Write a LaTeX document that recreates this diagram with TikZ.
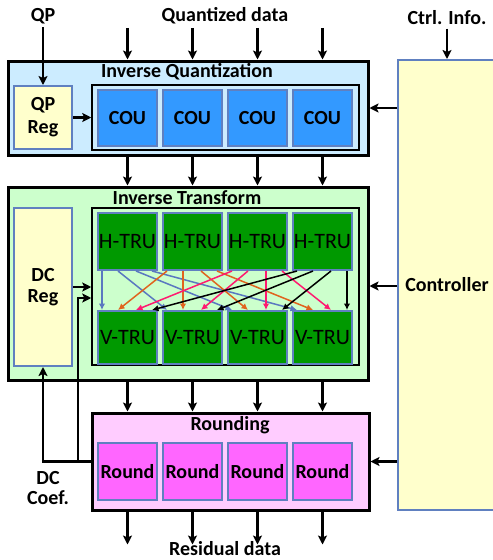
\documentclass[tikz,border=0pt]{standalone}
\usepackage{fontspec}
\setmainfont{Carlito}
\usetikzlibrary{arrows.meta,calc}
\definecolor{iqfill}{HTML}{CCECFF}
\definecolor{coufill}{HTML}{3399FF}
\definecolor{itfill}{HTML}{CCFFCC}
\definecolor{trufill}{HTML}{009900}
\definecolor{rndfill}{HTML}{FFCCFF}
\definecolor{roundfill}{HTML}{FF66FF}
\definecolor{regfill}{HTML}{FFFFCC}
\definecolor{edge}{HTML}{6080C0}
\definecolor{tblue}{HTML}{5A78C0}
\definecolor{torange}{HTML}{E0641E}
\definecolor{tpink}{HTML}{FF1A70}
\tikzset{
  big/.style={font=\fontsize{20}{21}\selectfont\bfseries},
  stage/.style={draw=black,line width=3pt,inner sep=0pt},
  holder/.style={draw=black,line width=1.5pt,minimum width=267pt,inner sep=0pt},
  unit/.style={draw=edge,line width=2pt,minimum width=59pt,inner sep=0pt},
  reg/.style={draw=edge,line width=2pt,fill=regfill,minimum width=58pt,inner sep=0pt,big,align=center},
  arr/.style={-{Stealth[length=9pt,width=9pt,inset=2pt]},line width=2.5pt},
  tarr/.style={-{Latex[length=6.5pt,width=6.5pt]},line width=1.5pt},
}

\begin{document}
\begin{tikzpicture}[x=1pt,y=-1pt]
  \clip (0,0) rectangle (493,560);
  % labels outside
  \node[big] (qp) at (43,16) {QP};
  \node[big] (qd) at (225,16) {Quantized data};
  \node[big] (ci) at (447,18) {Ctrl. Info.};
  \node[big] (rd) at (225,549) {Residual data};
  \node[big,align=center,font=\fontsize{20}{20}\selectfont\bfseries] (dcc) at (48,488) {DC\\Coef.};

  % controller
  \node[draw=edge,line width=2pt,fill=regfill,minimum width=98pt,minimum height=450pt,big] (ctrl) at (447,285) {Controller};

  % inverse quantization
  \node[stage,fill=iqfill,minimum width=360pt,minimum height=94pt] (iq) at (188,108) {};
  \node[big] at (187,72) {Inverse Quantization};
  \node[reg,minimum height=63pt,font=\fontsize{20}{23}\selectfont\bfseries] (qpreg) at (43,117.5) {QP\\Reg};
  \node[holder,fill=iqfill,minimum height=65pt] (couc) at (225.5,117.5) {};
  \foreach \i in {1,...,4}
    \node[unit,fill=coufill,minimum height=56pt,big] (cou\i) at (62.5+65*\i,118) {COU};

  % inverse transform
  \node[stage,fill=itfill,minimum width=360pt,minimum height=193pt] (it) at (188,283.5) {};
  \node[big] at (187,198) {Inverse Transform};
  \node[reg,minimum height=158pt] (dcreg) at (43,287) {DC\\Reg};
  \node[holder,fill=itfill,minimum height=157pt] (truc) at (225.5,286.5) {};
  \foreach \i in {1,...,4}{
    \node[unit,fill=trufill,minimum height=57pt,font=\fontsize{22}{22}\selectfont] (h\i) at (62.5+65*\i,241.5) {H-TRU};
    \node[unit,fill=trufill,minimum height=53pt,font=\fontsize{22}{22}\selectfont] (v\i) at (62.5+65*\i,337.5) {V-TRU};
  }

  % rounding
  \node[stage,fill=rndfill,minimum width=277pt,minimum height=97pt] (rnd) at (230.5,461.5) {};
  \node[big] at (230,425) {Rounding};
  \foreach \i in {1,...,4}
    \node[unit,fill=roundfill,minimum height=57pt,big] (round\i) at (62.5+65*\i,471.5) {Round};

  % transpose connections
  \foreach \i/\col in {1/tblue,2/torange,3/tpink,4/black}
    \foreach \k in {1,...,4}{
      \pgfmathsetmacro\fa{{5,21,39,55}[\k-1]}
      \pgfmathsetmacro\fb{{5,21,39,55}[\i-1]}
      \draw[tarr,\col] ($(h\i.south west)+(\fa,0)$) -- ($(v\k.north west)+(\fb,0)$);
    }

  % data flow
  \foreach \i in {1,...,4}{
    \draw[arr] (cou\i |- qd.south) -- (cou\i |- iq.north);
    \draw[arr] (cou\i |- iq.south) -- (h\i |- it.north);
    \draw[arr] (v\i |- it.south) -- (round\i |- rnd.north);
    \draw[arr] (round\i |- rnd.south) -- ++(0,33);
  }
  \draw[arr] (qp.south) -- (qpreg.north);
  \draw[arr] (ci.south) -- (ctrl.north);
  \draw[arr] (qpreg.east) -- (couc.west);
  \draw[arr] (ctrl.west |- iq.east) -- (iq.east);
  \draw[arr] (ctrl.west |- 0,286) -- (it.east |- 0,286);
  \draw[arr] (ctrl.west |- rnd.east) -- (rnd.east);

  % DC feedback
  \coordinate (dcj) at (78,461);
  \draw[arr] (rnd.west) -| (dcreg.south);
  \draw[arr] (dcj) |- ($(truc.west)+(0,11.5)$);
  \draw[arr] (dcreg.east |- 0,287) -- (truc.west |- 0,287);
\end{tikzpicture}
\end{document}
